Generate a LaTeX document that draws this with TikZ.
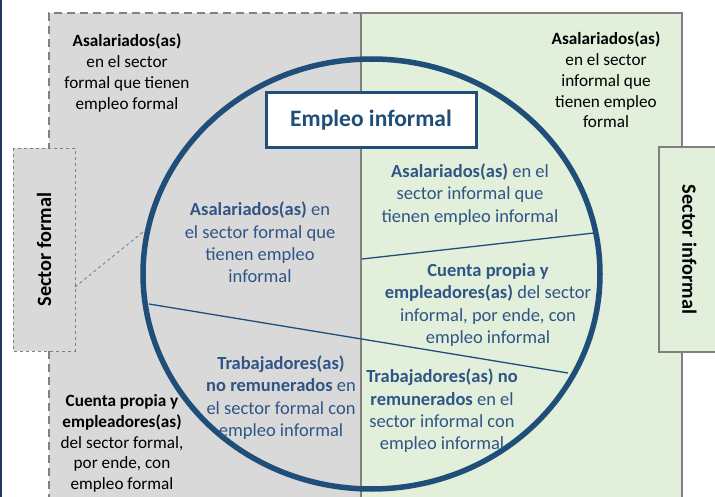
\documentclass[tikz,border=0pt]{standalone}
\usepackage{fontspec}
\setmainfont{Carlito}
\usetikzlibrary{shapes.geometric}
\definecolor{navy}{RGB}{31,78,121}
\definecolor{navytext}{RGB}{47,85,135}
\definecolor{grayfill}{RGB}{217,217,217}
\definecolor{greenfill}{RGB}{226,239,218}
\definecolor{bordergray}{RGB}{128,128,128}
\definecolor{leftbar}{RGB}{31,56,100}
\tikzset{
  outertext/.style={align=center, text=black, inner sep=0pt, font=\fontsize{17.2}{20.8}\selectfont},
  innertext/.style={align=center, text=navytext, inner sep=0pt, font=\fontsize{18.5}{22.4}\selectfont},
  divline/.style={line width=1.3pt, draw=navy},
  sectorbox/.style={font=\bfseries\fontsize{20.3}{24}\selectfont, text=black, inner sep=0pt}
}
\begin{document}
\begin{tikzpicture}[x=1pt,y=-1pt]
\useasboundingbox (0,0) rectangle (715,497);
% left bar
\fill[leftbar] (0,0) rectangle (2,497);
% gray formal region
\fill[grayfill] (49,13) rectangle (361,497);
\draw[bordergray, line width=2.5pt, dash pattern=on 8pt off 5pt] (361,13) -- (49,13) -- (49,500);
% green informal region
\fill[greenfill] (361,13) rectangle (682,505);
\draw[bordergray, line width=2.5pt] (361,13) -- (682,13) -- (682,505);
% divider
\draw[bordergray, line width=2.8pt] (361,12) -- (361,500);
% circle
\node[ellipse, draw=navy, line width=5.5pt, minimum width=457pt, minimum height=430pt, inner sep=0pt] (circ) at (371.5,274) {};
% inner division lines
\coordinate (l1a) at (362,259);
\coordinate (l1b) at (594,233);
\coordinate (l2a) at (149,304);
\coordinate (l2b) at (568,373);
\draw[divline] (l1a) -- (l1b);
\draw[divline] (l2a) -- (l2b);
% sector formal box
\node[sectorbox, rotate=90, draw=bordergray, dashed, line width=0.9pt, fill=grayfill, minimum width=203pt, minimum height=62pt] (secf) at (44,249.5) {Sector formal};
% sector informal box
\node[sectorbox, rotate=-90, draw=bordergray, line width=1.3pt, fill=greenfill, minimum width=205pt, minimum height=61pt] (seci) at (689.5,249.5) {Sector informal};
% dashed connector
\coordinate (cf) at (75,287);
\coordinate (cc) at (143,232);
\draw[bordergray, dashed, line width=0.9pt] (cf) -- (cc);
% title box
\node[draw=navy, line width=3pt, fill=white, minimum width=210pt, minimum height=55pt, text=navy, font=\bfseries\fontsize{23.5}{28}\selectfont] (title) at (371,120.5) {Empleo informal};
% outer texts
\node[outertext] (tl) at (127,73) {\textbf{Asalariados(as)}\\en el sector\\formal que tienen\\empleo formal};
\node[outertext] (tr) at (606,80) {\textbf{Asalariados(as)}\\en el sector\\informal que\\tienen empleo\\formal};
\node[outertext] (bl) at (122,443.5) {\textbf{Cuenta propia y}\\\textbf{empleadores(as)}\\del sector formal,\\por ende, con\\empleo formal};
% inner texts
\node[innertext] (i1) at (260,242.5) {\textbf{Asalariados(as)} en\\el sector formal que\\tienen empleo\\informal};
\node[innertext] (i2) at (470,194.5) {\textbf{Asalariados(as)} en el\\sector informal que\\tienen empleo informal};
\node[innertext] (i3) at (488,305) {\textbf{Cuenta propia y}\\\textbf{empleadores(as)} del sector\\informal, por ende, con\\empleo informal};
\node[innertext] (i4) at (281,397.5) {\textbf{Trabajadores(as)}\\\textbf{no remunerados} en\\el sector formal con\\empleo informal};
\node[innertext] (i5) at (442,411) {\textbf{Trabajadores(as) no}\\\textbf{remunerados} en el\\sector informal con\\empleo informal};
\end{tikzpicture}
\end{document}
